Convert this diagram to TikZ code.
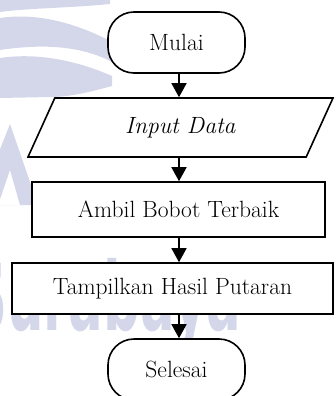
\documentclass[tikz,border=0pt]{standalone}
\usepackage{fontspec}
\newfontfamily\wmfont{DejaVu Sans}[BoldFont={DejaVu Sans Bold}]
\usetikzlibrary{arrows.meta,shapes.geometric,calc}
\definecolor{wm}{RGB}{212,215,234}
\begin{document}
\begin{tikzpicture}[x=1pt,y=-1pt,
  every node/.style={font=\fontsize{23.5}{26}\selectfont},
  flowline/.style={line width=1.6pt},
  term/.style={draw,flowline,fill=white,rectangle,rounded corners=26pt,minimum width=137pt,minimum height=61pt},
  proc/.style={draw,flowline,fill=white,rectangle,minimum height=55pt},
  io/.style={draw,flowline,fill=white,trapezium,trapezium left angle=45.5,trapezium right angle=134.5,trapezium stretches body,minimum width=305pt,minimum height=59pt},
  arr/.style={flowline,-{Triangle[width=15pt,length=14pt]}}]
\useasboundingbox (0,0) rectangle (335,396);
% watermark
\fill[wm] (0,0) -- (110,0) -- (110,4) .. controls (70,8) and (30,8) .. (0,12) -- cycle;
\fill[wm] (0,18) .. controls (40,12) and (80,25) .. (112,42) -- (112,62) .. controls (80,45) and (40,44) .. (0,50) -- cycle;
\fill[wm] (0,58) .. controls (40,52) and (80,62) .. (112,76) -- (112,86) .. controls (90,92) and (70,97) .. (50,97) -- (0,98) -- cycle;
\fill[wm,even odd rule] (-22,205) -- (10,124) -- (38,205) -- cycle (-2,205) -- (10,170) -- (20,205) -- cycle;
\node[anchor=base west,inner sep=0pt,text=wm,xscale=0.54,font=\fontsize{95}{100}\wmfont\bfseries] (wmtext) at (-30,330) {Surabaya};
% flowchart
\coordinate (ax) at (179,0);
\node[term] (mulai) at (176.5,42.5) {Mulai};
\node[io] (inp) at (180.5,127.5) {\textit{Input Data}};
\node[proc,minimum width=293pt] (ambil) at (178.5,209.5) {Ambil Bobot Terbaik};
\node[proc,minimum width=321pt,minimum height=51pt] (tampil) at (172.5,288.5) {Tampilkan Hasil Putaran};
\node[term] (selesai) at (176.5,369.5) {Selesai};
\draw[arr] (mulai.south -| ax) -- (inp.north -| ax);
\draw[arr] (inp.south -| ax) -- (ambil.north -| ax);
\draw[arr] (ambil.south -| ax) -- (tampil.north -| ax);
\draw[arr] (tampil.south -| ax) -- (selesai.north -| ax);
\end{tikzpicture}
\end{document}
